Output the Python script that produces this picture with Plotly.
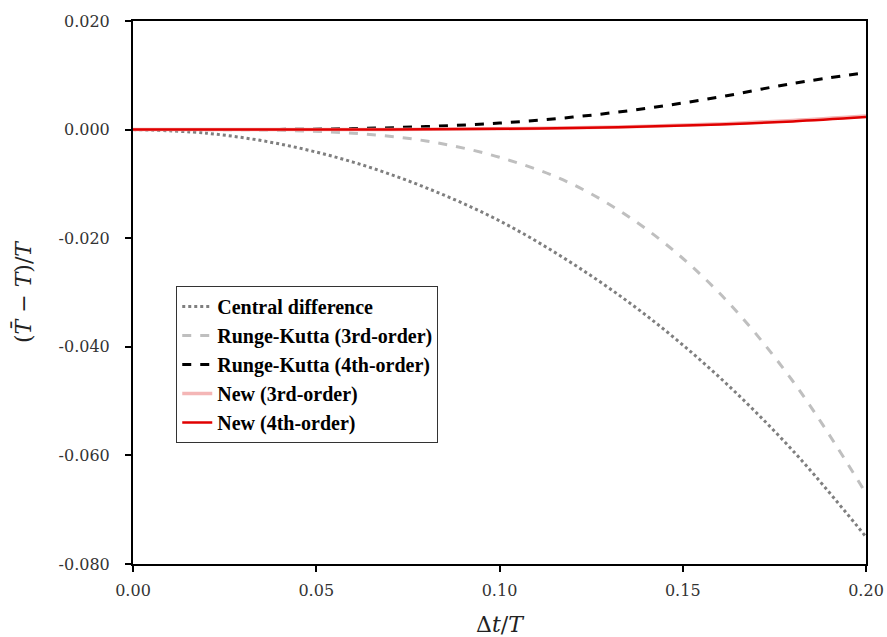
import plotly.graph_objects as go

dt_T = [0.00, 0.02, 0.04, 0.06, 0.08, 0.10, 0.12, 0.14, 0.16, 0.18, 0.20]

central_difference = [0.0, -0.00066, -0.00264, -0.00598, -0.01072, -0.0168,
                      -0.0247, -0.0342, -0.0456, -0.0591, -0.0750]
rk3 = [0.0, -0.00001, -0.00013, -0.00067, -0.0021, -0.0051,
       -0.0101, -0.0183, -0.0301, -0.0463, -0.0670]
rk4 = [0.0, 0.0, 0.00004, 0.00018, 0.00056, 0.0012,
       0.0023, 0.0039, 0.0060, 0.0085, 0.0105]
new3 = [0.0, 0.0, 0.0, 0.00002, 0.00006, 0.00016,
        0.00033, 0.00062, 0.00105, 0.00168, 0.0025]
new4 = [0.0, 0.0, 0.0, 0.00001, 0.00005, 0.00014,
        0.0003, 0.00055, 0.00094, 0.0015, 0.0023]

x_ticks = [0.00, 0.05, 0.10, 0.15, 0.20]
x_tick_text = ["0.00", "0.05", "0.10", "0.15", "0.20"]
y_ticks = [-0.08, -0.06, -0.04, -0.02, 0.0, 0.02]
y_tick_text = ["-0.080", "-0.060", "-0.040", "-0.020", "0.000", "0.020"]

fig = go.Figure()
fig.add_trace(go.Scatter(x=dt_T, y=central_difference, mode="lines", name="Central difference",
                         line=dict(color="#7f7f7f", width=3, dash="dot", shape="spline")))
fig.add_trace(go.Scatter(x=dt_T, y=rk3, mode="lines", name="Runge-Kutta (3rd-order)",
                         line=dict(color="#bfbfbf", width=3, dash="dash", shape="spline")))
fig.add_trace(go.Scatter(x=dt_T, y=rk4, mode="lines", name="Runge-Kutta (4th-order)",
                         line=dict(color="#000000", width=3, dash="dash", shape="spline")))
fig.add_trace(go.Scatter(x=dt_T, y=new3, mode="lines", name="New (3rd-order)",
                         line=dict(color="#f4b6b6", width=3.5, shape="spline")))
fig.add_trace(go.Scatter(x=dt_T, y=new4, mode="lines", name="New (4th-order)",
                         line=dict(color="#e00000", width=2.5, shape="spline")))

tick_font = dict(family="DejaVu Serif", size=16, color="#333")
title_font = dict(family="DejaVu Serif", size=22, color="#222")

fig.update_layout(
    width=887, height=637,
    margin=dict(l=133, r=21, t=21, b=73),
    paper_bgcolor="white", plot_bgcolor="white",
    showlegend=True,
    legend=dict(x=0.059, y=0.512, xanchor="left", yanchor="top",
                bgcolor="white", bordercolor="#333", borderwidth=1,
                font=dict(family="Liberation Serif", size=20, color="black", weight="bold"),
                traceorder="normal"),
)
fig.update_xaxes(range=[0, 0.20], tickvals=x_ticks, ticktext=x_tick_text,
                 automargin=False, tickfont=tick_font,
                 showgrid=False, zeroline=False, showline=True, linecolor="black",
                 linewidth=2, mirror=True, ticks="outside", ticklen=6, tickwidth=2,
                 tickcolor="black", ticklabelstandoff=5,
                 title=dict(text="Δ<i>t</i>/<i>T</i>", standoff=18, font=title_font))
fig.update_yaxes(range=[-0.08, 0.02], tickvals=y_ticks, ticktext=y_tick_text,
                 automargin=False, tickfont=tick_font,
                 showgrid=False, zeroline=False, showline=True, linecolor="black",
                 linewidth=2, mirror=True, ticks="outside", ticklen=6, tickwidth=2,
                 tickcolor="black", ticklabelstandoff=12,
                 title=dict(text="(<i>T̄</i> − <i>T</i>)/<i>T</i>", standoff=21, font=title_font))

fig.write_html(
    "out.html",
    config={"displayModeBar": False},
    post_script="document.documentElement.style.overflow='hidden';"
                "document.body.style.margin='0px';document.body.style.overflow='hidden';",
)
